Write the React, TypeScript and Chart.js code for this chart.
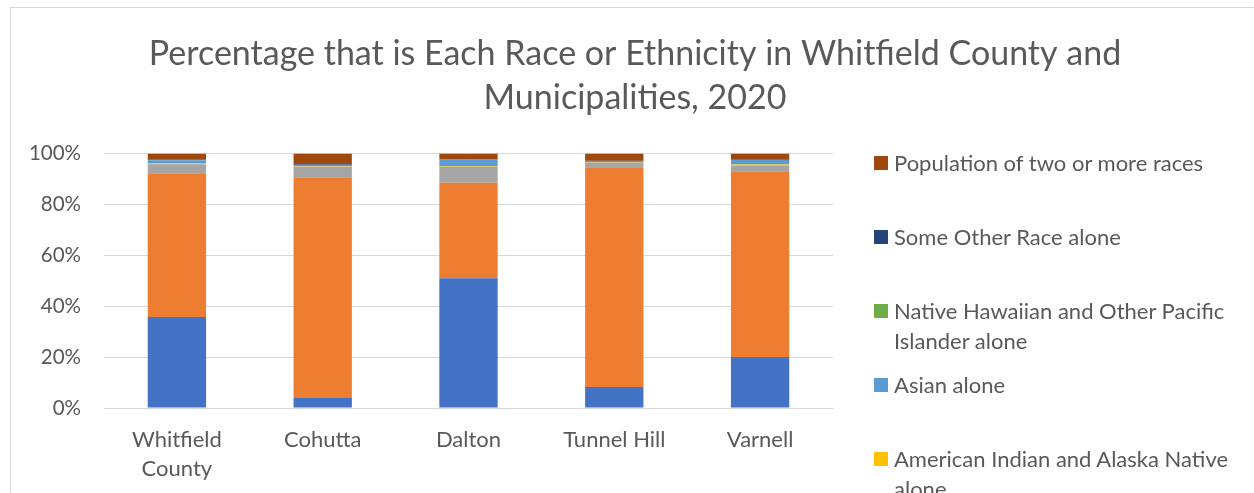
import React, { useEffect, useRef } from "react";
import { Chart, registerables } from "chart.js";
Chart.register(...registerables);

const FONT = "Lato, 'Open Sans', sans-serif";
const TEXT = "#595959";

const titleLines = [
  "Percentage that is Each Race or Ethnicity in Whitfield County and",
  "Municipalities, 2020",
];

const categories: (string | string[])[] = [
  ["Whitfield", "County"],
  "Cohutta",
  "Dalton",
  "Tunnel Hill",
  "Varnell",
];

const yTicks = [0, 20, 40, 60, 80, 100];

// values in percent, per category
const hispanicLatino = [35.7, 3.9, 51.0, 8.2, 20.0];
const whiteAlone = [56.5, 86.7, 37.5, 86.4, 73.0];
const blackAlone = [3.5, 4.3, 6.2, 1.8, 2.2];
const amIndianAlone = [0.3, 0.2, 0.2, 0.2, 0.4];
const asianAlone = [1.3, 0.4, 2.6, 0.4, 1.8];
const nhpiAlone = [0.1, 0.0, 0.1, 0.0, 0.0];
const otherRaceAlone = [0.2, 0.3, 0.2, 0.1, 0.2];
const twoOrMoreRaces = [2.4, 4.2, 2.2, 2.9, 2.4];

const seriesNames = [
  "Hispanic or Latino",
  "White alone",
  "Black or African American alone",
  "American Indian and Alaska Native alone",
  "Asian alone",
  "Native Hawaiian and Other Pacific Islander alone",
  "Some Other Race alone",
  "Population of two or more races",
];
const seriesData = [
  hispanicLatino,
  whiteAlone,
  blackAlone,
  amIndianAlone,
  asianAlone,
  nhpiAlone,
  otherRaceAlone,
  twoOrMoreRaces,
];
const seriesColors = [
  "#4472C4",
  "#ED7D31",
  "#A5A5A5",
  "#FFC000",
  "#5B9BD5",
  "#70AD47",
  "#264478",
  "#9E480E",
];

export default function App() {
  const ref = useRef<HTMLCanvasElement>(null);

  useEffect(() => {
    const chart = new Chart(ref.current!, {
      type: "bar",
      data: {
        labels: categories,
        datasets: seriesNames.map((name, i) => ({
          label: name,
          data: seriesData[i],
          backgroundColor: seriesColors[i],
          borderWidth: 0,
          barPercentage: 0.4,
          categoryPercentage: 1,
        })),
      },
      options: {
        responsive: false,
        animation: false,
        layout: { padding: 0 },
        plugins: {
          legend: { display: false },
          tooltip: { enabled: false },
          title: {
            display: true,
            text: titleLines,
            color: TEXT,
            font: { family: FONT, size: 34, weight: "normal", lineHeight: 1.3 },
            padding: { top: 25, bottom: 33 },
          },
        },
        scales: {
          x: {
            stacked: true,
            grid: { display: false, drawTicks: false },
            border: { color: "#D9D9D9" },
            ticks: {
              color: TEXT,
              font: { family: FONT, size: 22, lineHeight: 1.3 },
              padding: 18,
              maxRotation: 0,
              autoSkip: false,
            },
            afterFit: (s: any) => {
              s.height = 85;
            },
          },
          y: {
            stacked: true,
            min: 0,
            max: 100,
            afterBuildTicks: (s: any) => {
              s.ticks = yTicks.map((v) => ({ value: v }));
            },
            ticks: {
              color: TEXT,
              font: { family: FONT, size: 20.5 },
              padding: 23,
              callback: (v: any) => v + "%",
            },
            grid: { color: "#D9D9D9", drawTicks: false },
            border: { display: false },
            afterFit: (s: any) => {
              s.width = 94;
            },
          },
          legendSpace: {
            type: "linear",
            position: "right",
            display: true,
            grid: { display: false, drawTicks: false },
            border: { display: false },
            ticks: { display: false },
            afterFit: (s: any) => {
              s.width = 427;
            },
          },
        },
      },
    });
    return () => chart.destroy();
  }, []);

  const legendOrder = seriesNames.map((_, i) => i).reverse();

  return (
    <div
      style={{
        position: "fixed",
        left: 0,
        top: 0,
        width: 1254,
        height: 493,
        overflow: "hidden",
        background: "#fff",
      }}
    >
      <div
        style={{
          position: "absolute",
          left: 10,
          top: 7,
          width: 1400,
          height: 700,
          border: "1px solid #D9D9D9",
          boxSizing: "border-box",
        }}
      />
      <canvas
        ref={ref}
        width={1250}
        height={486}
        style={{ position: "absolute", left: 10, top: 7, width: 1250, height: 486 }}
      />
      <div style={{ position: "absolute", left: 874, top: 148, width: 375 }}>
        {legendOrder.map((i) => (
          <div
            key={i}
            style={{ position: "relative", height: 74, fontFamily: FONT, fontSize: 22, lineHeight: "30px", color: TEXT }}
          >
            <div
              style={{
                position: "absolute",
                left: 0,
                top: 8,
                width: 14,
                height: 14,
                background: seriesColors[i],
              }}
            />
            <div style={{ marginLeft: 20, width: 350 }}>{seriesNames[i]}</div>
          </div>
        ))}
      </div>
    </div>
  );
}
